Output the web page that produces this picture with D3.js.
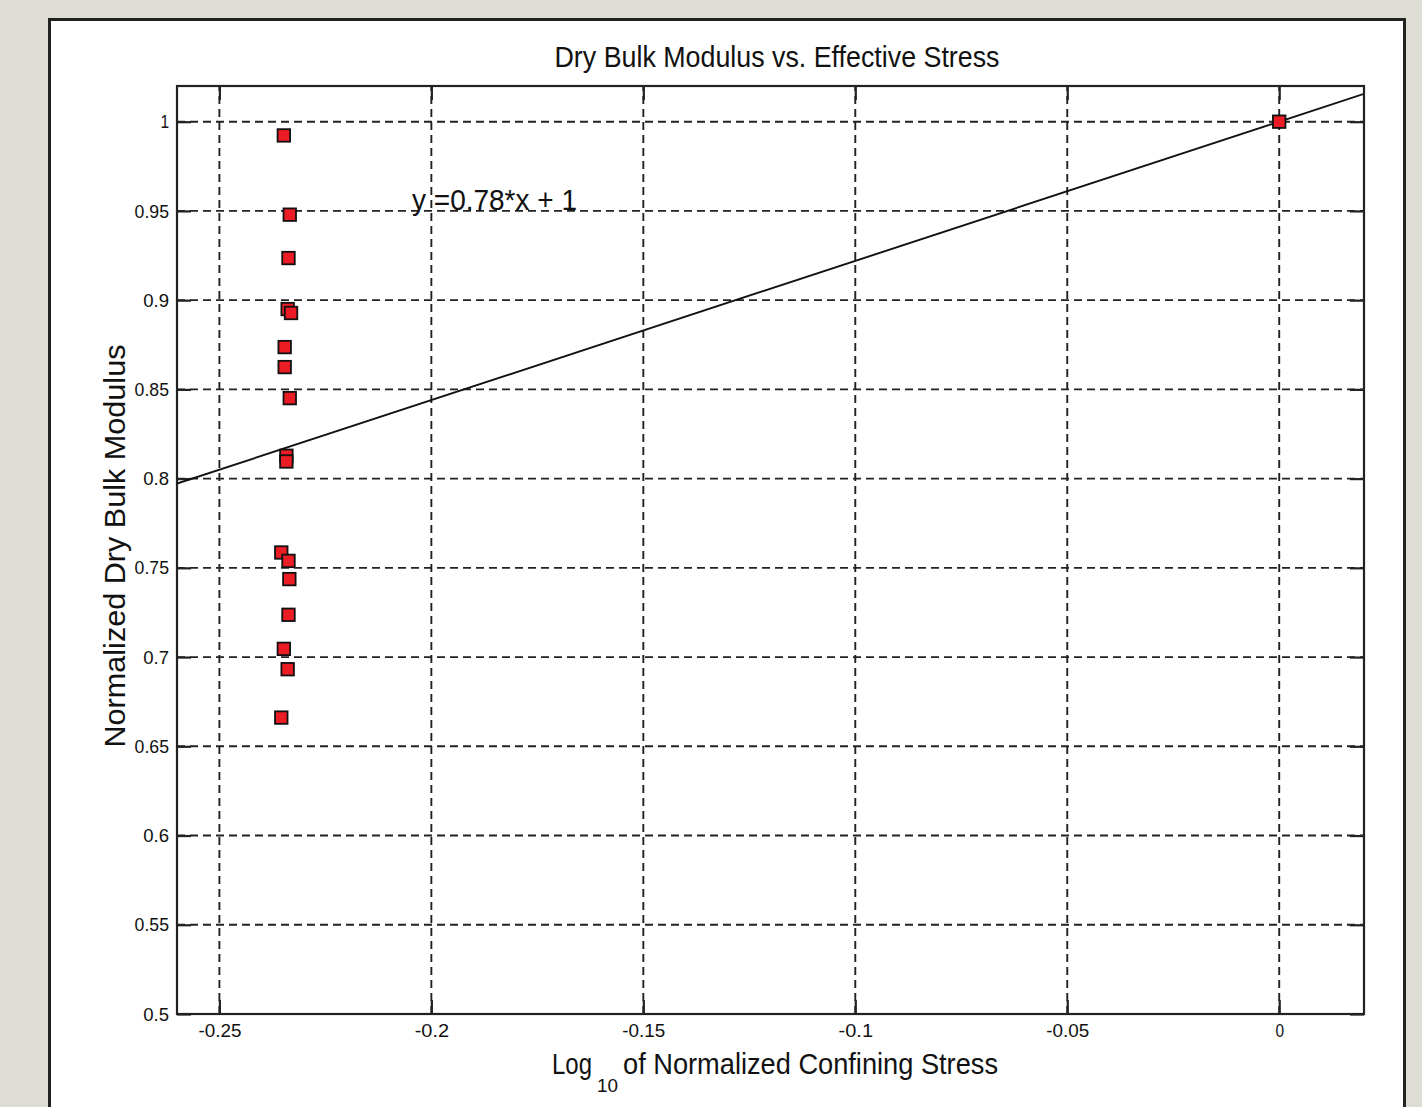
<!DOCTYPE html>
<html>
<head>
<meta charset="utf-8">
<script src="https://cdn.jsdelivr.net/npm/d3@7"></script>
<style>
  html, body { margin: 0; padding: 0; background: #dddcd5; }
  svg { display: block; }
  text { font-family: "Liberation Sans", Arial, sans-serif; fill: #111; }
</style>
</head>
<body>
<div class="graphic"></div>
<script>
// measured points (log10 of normalized confining stress, normalized dry bulk modulus)
var stressLog = [-0.2348, -0.2334, -0.2337, -0.2339, -0.2331, -0.2346, -0.2346, -0.2334,
                 -0.2342, -0.2342, -0.2354, -0.2337, -0.2335, -0.2337, -0.2348, -0.2339,
                 -0.2354, 0]
var modulus = [0.9923, 0.9479, 0.9236, 0.8950, 0.8928, 0.8737, 0.8625, 0.8451,
               0.8128, 0.8096, 0.7586, 0.7539, 0.7437, 0.7237, 0.7046, 0.6932,
               0.6661, 1.0]
var xTicks = [-0.25, -0.2, -0.15, -0.1, -0.05, 0]
var yTicks = [0.5, 0.55, 0.6, 0.65, 0.7, 0.75, 0.8, 0.85, 0.9, 0.95, 1]
var fitSlope = 0.78
var fitIntercept = 1

var width = 1422
var height = 1107

var svg = d3.select('.graphic').append('svg')
    .attr('width', width)
    .attr('height', height)

// white figure panel
svg.append('rect')
    .attr('x', 49.5).attr('y', 19.5)
    .attr('width', 1355).attr('height', 1200)
    .attr('fill', '#fff')
    .attr('stroke', '#222')
    .attr('stroke-width', 3)

var x = d3.scaleLinear().domain([-0.26, 0.02]).range([177, 1364])
var y = d3.scaleLinear().domain([0.5, 1.02]).range([1014, 86])

var fmt = function(d) { return String(+d.toFixed(2)) }
var tickLen = 14

// grid
var grid = svg.append('g')
    .attr('stroke', '#222')
    .attr('stroke-width', 1.9)
    .attr('stroke-dasharray', '8,5')
grid.selectAll('.gx').data(xTicks).enter().append('line')
    .attr('x1', function(d) { return x(d) }).attr('x2', function(d) { return x(d) })
    .attr('y1', y.range()[0]).attr('y2', y.range()[1])
grid.selectAll('.gy').data(yTicks).enter().append('line')
    .attr('y1', function(d) { return y(d) }).attr('y2', function(d) { return y(d) })
    .attr('x1', x.range()[0]).attr('x2', x.range()[1])

// axes (ticks point inward, like matlab)
function styleAxis(g) {
    g.select('.domain').remove()
    g.selectAll('.tick line').attr('stroke', '#222').attr('stroke-width', 2.2)
    g.selectAll('.tick text')
        .style('font-family', '"Liberation Sans", Arial, sans-serif')
        .style('font-size', '19px')
        .attr('fill', '#111')
        .attr('textLength', function(d) { return fmt(d).length * 8.6 })
        .attr('lengthAdjust', 'spacingAndGlyphs')
}
svg.append('g')
    .attr('transform', 'translate(0,' + y.range()[0] + ')')
    .call(d3.axisBottom(x).tickValues(xTicks).tickFormat(fmt).tickSizeInner(-tickLen).tickPadding(10))
    .call(styleAxis)
svg.append('g')
    .attr('transform', 'translate(0,' + y.range()[1] + ')')
    .call(d3.axisTop(x).tickValues(xTicks).tickFormat('').tickSizeInner(-tickLen))
    .call(styleAxis)
svg.append('g')
    .attr('transform', 'translate(' + x.range()[0] + ',0)')
    .call(d3.axisLeft(y).tickValues(yTicks).tickFormat(fmt).tickSizeInner(-tickLen).tickPadding(8))
    .call(styleAxis)
svg.append('g')
    .attr('transform', 'translate(' + x.range()[1] + ',0)')
    .call(d3.axisRight(y).tickValues(yTicks).tickFormat('').tickSizeInner(-tickLen))
    .call(styleAxis)

// frame
svg.append('rect')
    .attr('x', x.range()[0]).attr('y', y.range()[1])
    .attr('width', x.range()[1] - x.range()[0])
    .attr('height', y.range()[0] - y.range()[1])
    .attr('fill', 'none')
    .attr('stroke', '#222')
    .attr('stroke-width', 2.2)

// fitted line
svg.append('clipPath').attr('id', 'plotclip').append('rect')
    .attr('x', x.range()[0]).attr('y', y.range()[1])
    .attr('width', x.range()[1] - x.range()[0])
    .attr('height', y.range()[0] - y.range()[1])
var fitLine = d3.line()
    .x(function(d) { return x(d) })
    .y(function(d) { return y(fitSlope * d + fitIntercept) })
svg.append('path')
    .datum(x.domain())
    .attr('d', fitLine)
    .attr('clip-path', 'url(#plotclip)')
    .attr('fill', 'none')
    .attr('stroke', '#111')
    .attr('stroke-width', 1.9)

// data squares
var pts = d3.range(stressLog.length).map(function(i) { return [stressLog[i], modulus[i]] })
var sq = 12.5
svg.append('g').selectAll('rect').data(pts).enter().append('rect')
    .attr('x', function(d) { return x(d[0]) - sq / 2 })
    .attr('y', function(d) { return y(d[1]) - sq / 2 })
    .attr('width', sq).attr('height', sq)
    .attr('fill', '#ec1c24')
    .attr('stroke', '#111')
    .attr('stroke-width', 1.8)

// texts
svg.append('text')
    .attr('x', 777).attr('y', 67)
    .attr('text-anchor', 'middle')
    .attr('textLength', 445).attr('lengthAdjust', 'spacingAndGlyphs')
    .style('font-size', '30px')
    .text('Dry Bulk Modulus vs. Effective Stress')

svg.append('text')
    .attr('x', 412).attr('y', 210)
    .attr('textLength', 165).attr('lengthAdjust', 'spacingAndGlyphs')
    .style('font-size', '30px')
    .text('y =0.78*x + 1')

svg.append('text')
    .attr('transform', 'translate(125,546) rotate(-90)')
    .attr('text-anchor', 'middle')
    .attr('textLength', 403).attr('lengthAdjust', 'spacingAndGlyphs')
    .style('font-size', '30px')
    .text('Normalized Dry Bulk Modulus')

svg.append('text')
    .attr('x', 552).attr('y', 1074)
    .attr('textLength', 40).attr('lengthAdjust', 'spacingAndGlyphs')
    .style('font-size', '30px')
    .text('Log')
svg.append('text')
    .attr('x', 597).attr('y', 1092)
    .attr('textLength', 21).attr('lengthAdjust', 'spacingAndGlyphs')
    .style('font-size', '19px')
    .text('10')
svg.append('text')
    .attr('x', 623).attr('y', 1074)
    .attr('textLength', 375).attr('lengthAdjust', 'spacingAndGlyphs')
    .style('font-size', '30px')
    .text('of Normalized Confining Stress')
</script>
</body>
</html>
